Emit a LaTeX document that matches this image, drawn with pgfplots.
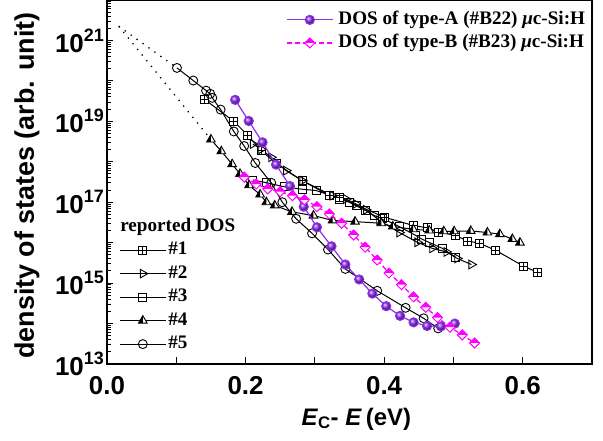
\documentclass[border=0pt]{standalone}
\usepackage{fontspec}
\setmainfont{Liberation Serif}
\setsansfont{Liberation Sans}
\usepackage{pgfplots}
\pgfplotsset{compat=1.18}

\definecolor{dosA}{HTML}{8C2EE8}
\definecolor{dosB}{HTML}{FF00FF}

% square with a plus inside
\pgfdeclareplotmark{sqplus}{%
  \pgfpathrectangle{\pgfqpoint{-\pgfplotmarksize}{-\pgfplotmarksize}}{\pgfqpoint{2\pgfplotmarksize}{2\pgfplotmarksize}}%
  \pgfusepathqfillstroke
  \pgfpathmoveto{\pgfqpoint{-\pgfplotmarksize}{0pt}}\pgfpathlineto{\pgfqpoint{\pgfplotmarksize}{0pt}}%
  \pgfpathmoveto{\pgfqpoint{0pt}{-\pgfplotmarksize}}\pgfpathlineto{\pgfqpoint{0pt}{\pgfplotmarksize}}%
  \pgfusepathqstroke}
% diamond, top half filled
\pgfdeclareplotmark{hdiamond}{%
  \begin{pgfscope}\pgfsetfillcolor{white}%
  \pgfpathmoveto{\pgfqpoint{0pt}{\pgfplotmarksize}}\pgfpathlineto{\pgfqpoint{\pgfplotmarksize}{0pt}}%
  \pgfpathlineto{\pgfqpoint{0pt}{-\pgfplotmarksize}}\pgfpathlineto{\pgfqpoint{-\pgfplotmarksize}{0pt}}\pgfpathclose
  \pgfusepathqfill\end{pgfscope}%
  \pgfpathmoveto{\pgfqpoint{0pt}{\pgfplotmarksize}}\pgfpathlineto{\pgfqpoint{\pgfplotmarksize}{0pt}}%
  \pgfpathlineto{\pgfqpoint{-\pgfplotmarksize}{0pt}}\pgfpathclose
  \pgfusepathqfill
  \pgfpathmoveto{\pgfqpoint{0pt}{\pgfplotmarksize}}\pgfpathlineto{\pgfqpoint{\pgfplotmarksize}{0pt}}%
  \pgfpathlineto{\pgfqpoint{0pt}{-\pgfplotmarksize}}\pgfpathlineto{\pgfqpoint{-\pgfplotmarksize}{0pt}}\pgfpathclose
  \pgfusepathqstroke}
% triangle, left half filled
\pgfdeclareplotmark{htriangle}{%
  \begin{pgfscope}\pgfsetfillcolor{white}%
  \pgfpathmoveto{\pgfqpoint{0pt}{\pgfplotmarksize}}\pgfpathlineto{\pgfqpoint{0.866\pgfplotmarksize}{-0.5\pgfplotmarksize}}%
  \pgfpathlineto{\pgfqpoint{-0.866\pgfplotmarksize}{-0.5\pgfplotmarksize}}\pgfpathclose
  \pgfusepathqfill\end{pgfscope}%
  \pgfpathmoveto{\pgfqpoint{0pt}{\pgfplotmarksize}}\pgfpathlineto{\pgfqpoint{0pt}{-0.5\pgfplotmarksize}}%
  \pgfpathlineto{\pgfqpoint{-0.866\pgfplotmarksize}{-0.5\pgfplotmarksize}}\pgfpathclose
  \pgfusepathqfill
  \pgfpathmoveto{\pgfqpoint{0pt}{\pgfplotmarksize}}\pgfpathlineto{\pgfqpoint{0.866\pgfplotmarksize}{-0.5\pgfplotmarksize}}%
  \pgfpathlineto{\pgfqpoint{-0.866\pgfplotmarksize}{-0.5\pgfplotmarksize}}\pgfpathclose
  \pgfusepathqstroke}

\newcommand\dexp[1]{10\raisebox{11bp}{\fontsize{18}{18}\selectfont#1}}

\pgfplotsset{
  legend image code/.code={\draw[mark repeat=2,mark phase=2,#1] plot coordinates {(0bp,0bp) (23bp,0bp) (46bp,0bp)};},
}

\begin{document}
\begin{tikzpicture}
\begin{axis}[name=ax,
  scale only axis, width=485bp, height=364bp,
  xmin=0, xmax=0.7, ymode=log, ymin=1e13, ymax=1e22,
  xtick={0,0.1,0.2,0.3,0.4,0.5,0.6,0.7},
  xticklabels={0.0,,0.2,,0.4,,0.6,},
  ytick={1e13,1e14,1e15,1e16,1e17,1e18,1e19,1e20,1e21,1e22},
  yticklabels={\dexp{13},,\dexp{15},,\dexp{17},,\dexp{19},,\dexp{21},},
  minor ytick={
    2e13,3e13,4e13,5e13,6e13,7e13,8e13,9e13,
    2e14,3e14,4e14,5e14,6e14,7e14,8e14,9e14,
    2e15,3e15,4e15,5e15,6e15,7e15,8e15,9e15,
    2e16,3e16,4e16,5e16,6e16,7e16,8e16,9e16,
    2e17,3e17,4e17,5e17,6e17,7e17,8e17,9e17,
    2e18,3e18,4e18,5e18,6e18,7e18,8e18,9e18,
    2e19,3e19,4e19,5e19,6e19,7e19,8e19,9e19,
    2e20,3e20,4e20,5e20,6e20,7e20,8e20,9e20,
    2e21,3e21,4e21,5e21,6e21,7e21,8e21,9e21},
  xtick pos=bottom, ytick pos=left, tick align=inside,
  major tick length=6.5bp, minor tick length=4bp,
  tick style={line width=1bp, black},
  axis line style={line width=1.3bp},
  ticklabel style={font=\sffamily\bfseries\fontsize{26}{26}\selectfont},
  xticklabel style={inner sep=0pt, yshift=-12bp},
  yticklabel style={inner sep=0pt, xshift=-3bp},
  every axis y label/.style={at={(axis description cs:-0.165,0.49)}, rotate=90, anchor=center},
  every axis x label/.style={at={(axis description cs:0.514,-0.168)}, anchor=base},
  ylabel={\sffamily\bfseries\fontsize{27}{27}\selectfont density of states (arb. unit)},
  xlabel={\sffamily\bfseries\fontsize{24}{24}\selectfont\textit{E}\textsubscript{C}- \textit{E}\,(eV)},
  legend style={at={(rel axis cs:0.025,0.404)}, anchor=north west, draw=none, fill=none,
    font=\rmfamily\bfseries\fontsize{19.2}{19.2}\selectfont, inner sep=0pt, row sep=4.5bp,
    nodes={inner sep=0pt, text height=14bp, text depth=5bp},
    /tikz/every odd column/.append style={column sep=2bp}},
  legend cell align=left,
]
\addlegendimage{empty legend}
\addlegendentry{\hspace*{-48bp}reported DOS}
% #1
\addplot[black, line width=1bp, mark=sqplus, mark size=4bp, mark options={solid, fill=white, line width=0.9bp}] coordinates {
(0.141,3.47e19) (0.183,1.0e19) (0.203,4.57e18) (0.223,1.86e18) (0.245,8.91e17)
(0.282,3.39e17) (0.321,1.48e17) (0.335,1.32e17) (0.400,4.27e16) (0.443,2.63e16)
(0.462,2.34e16) (0.479,1.82e16) (0.503,1.51e16) (0.520,1.10e16) (0.537,9.77e15)
(0.561,6.46e15) (0.601,2.63e15) (0.621,1.86e15)};
\addlegendentry{\#1}
% #2
\addplot[black, line width=1bp, mark=triangle, mark size=5bp, mark options={solid, fill=white, line width=0.9bp, rotate=-90}] coordinates {
(0.2105,2.75e18) (0.2226,2.04e18) (0.237,1.29e18) (0.2586,6.03e17) (0.282,3.39e17)
(0.3256,1.45e17) (0.345,1.20e17) (0.359,9.12e16) (0.374,6.46e16) (0.393,3.55e16)
(0.422,1.78e16) (0.448,1.02e16) (0.4695,7.24e15) (0.490,5.89e15) (0.5055,4.07e15)
(0.526,2.88e15)};
\addlegendentry{\#2}
% #3
\addplot[black, line width=1bp, mark=square, mark size=4bp, mark options={solid, fill=white, line width=0.9bp}] coordinates {
(0.2105,3.55e17) (0.2306,3.02e17) (0.256,2.40e17) (0.2825,2.09e17) (0.3017,1.95e17)
(0.321,1.51e17) (0.335,1.20e17) (0.3496,1.0e17) (0.3597,8.13e16) (0.3737,6.17e16)
(0.3856,4.68e16) (0.3976,3.98e16) (0.4216,2.51e16) (0.4456,1.51e16) (0.4542,1.23e16)
(0.4647,1.02e16) (0.484,7.24e15) (0.503,4.37e15)};
\addlegendentry{\#3}
% #4
\addplot[black, line width=1bp, mark=htriangle, mark size=5bp, mark options={solid, fill=black, line width=0.9bp}] coordinates {
(0.150,3.55e18) (0.165,1.82e18) (0.1806,8.71e17) (0.192,5.01e17) (0.205,2.63e17)
(0.221,1.55e17) (0.230,1.0e17) (0.242,8.32e16) (0.267,5.75e16) (0.298,4.68e16)
(0.3256,3.55e16) (0.358,3.31e16) (0.396,3.02e16) (0.4125,2.51e16) (0.442,2.14e16)
(0.465,2.0e16) (0.486,1.91e16) (0.501,1.91e16) (0.525,1.95e16) (0.549,1.78e16)
(0.567,1.62e16) (0.585,1.23e16) (0.596,1.0e16)};
\addlegendentry{\#4}
% #5
\addplot[black, line width=1bp, mark=o, mark size=4.5bp, mark options={solid, fill=white, line width=0.9bp}] coordinates {
(0.101,2.09e20) (0.1245,1.02e20) (0.143,5.75e19) (0.149,4.79e19) (0.152,3.80e19)
(0.164,1.95e19) (0.183,5.62e18) (0.198,2.45e18) (0.214,9.33e17) (0.237,3.02e17)
(0.253,1.0e17) (0.273,3.89e16) (0.296,1.70e16) (0.319,6.76e15) (0.344,2.24e15)
(0.390,6.46e14) (0.431,2.45e14) (0.457,1.35e14) (0.478,7.59e13)};
\addlegendentry{\#5}
% extrapolations
\addplot[forget plot, black, line width=1.3bp, dash pattern=on 1.3bp off 6bp] coordinates {(0.017,2.24e21) (0.101,2.09e20)};
\addplot[forget plot, black, line width=1.3bp, dash pattern=on 1.3bp off 6bp] coordinates {(0.017,2.24e21) (0.150,3.55e18)};
\end{axis}

\begin{axis}[hide axis,
  scale only axis, width=485bp, height=364bp,
  xmin=0, xmax=0.7, ymode=log, ymin=1e13, ymax=1e22,
  legend style={at={(rel axis cs:0.986,0.972)}, anchor=north east, draw=none, fill=none,
    font=\rmfamily\bfseries\fontsize{19.2}{19.2}\selectfont, inner sep=0pt, row sep=4bp,
    nodes={inner sep=0pt, text height=14bp, text depth=5bp},
    /tikz/every odd column/.append style={column sep=5bp}},
  legend cell align=left,
]
\addplot[dosA, line width=1.2bp, mark=ball, mark size=4.5bp, mark options={solid, ball color=dosA}] coordinates {
(0.185,3.39e19) (0.2046,1.02e19) (0.2245,3.02e18) (0.244,8.51e17) (0.264,2.51e17)
(0.284,7.76e16) (0.303,2.40e16) (0.324,8.13e15) (0.344,2.88e15) (0.364,1.23e15)
(0.383,5.50e14) (0.403,2.69e14) (0.423,1.55e14) (0.4425,1.07e14) (0.462,8.71e13)
(0.482,8.51e13) (0.502,1.0e14)};
\addlegendentry{DOS of type-A (\#B22) {\itshape μ}c-Si:H}
\addplot[dosB, line width=1.3bp, dash pattern=on 5bp off 3bp, mark=hdiamond, mark size=5bp, mark options={solid, fill=dosB, line width=1bp}] coordinates {
(0.198,4.17e17) (0.2154,2.82e17) (0.232,2.14e17) (0.250,1.82e17) (0.2676,1.45e17)
(0.285,1.15e17) (0.303,7.76e16) (0.321,5.13e16) (0.3386,3.02e16) (0.356,1.55e16)
(0.3725,7.76e15) (0.390,3.72e15) (0.407,1.78e15) (0.425,9.12e14) (0.4425,4.57e14)
(0.460,2.51e14) (0.477,1.41e14) (0.495,8.13e13) (0.5127,5.25e13) (0.5306,3.31e13)};
\addlegendentry{DOS of type-B (\#B23) {\itshape μ}c-Si:H}
\end{axis}
\pgfresetboundingbox
\path (ax.south west) ++(-107bp,-77bp) rectangle ++(603bp,441bp);
\end{tikzpicture}
\end{document}
